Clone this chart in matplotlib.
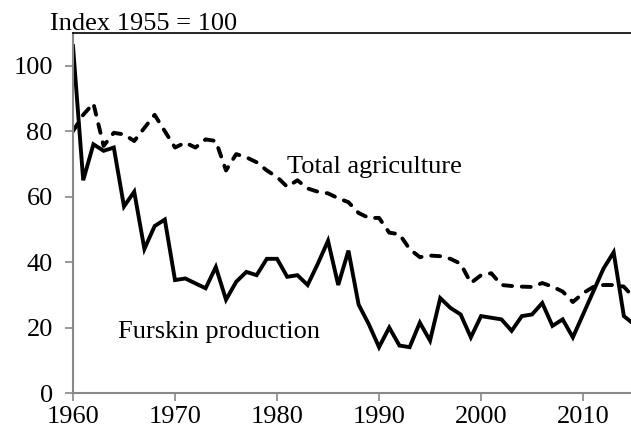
import numpy as np
import matplotlib.pyplot as plt

# -----------------------------
# Data (index 1955 = 100)
# -----------------------------
years = list(range(1960, 2016))

furskin = [106, 65, 76, 74, 75, 57, 61.5, 44, 51, 53,
           34.5, 35, 33.5, 32, 38.5, 28.5, 34, 37, 36, 41,
           41, 35.5, 36, 33, 39.5, 46.5, 33, 43.5, 27, 21,
           14, 20, 14.5, 14, 21.5, 16, 29, 26, 24, 17,
           23.5, 23, 22.5, 19, 23.5, 24, 27.5, 20.5, 22.5, 17,
           24, 31, 38, 43, 23.5, 21]

agriculture = [80, 85, 88.5, 75.5, 79.5, 79, 77, 81, 85, 80,
               75, 76.5, 75, 77.5, 77, 68, 73, 72, 70.5, 68,
               66, 63, 65, 62.5, 61.5, 61, 59.5, 58.3, 55, 53.5,
               53.5, 49, 48.5, 44, 41.5, 42, 41.8, 41, 39.5, 33.6,
               36, 36.6, 33, 32.7, 32.5, 32.4, 33.6, 32.5, 31, 27.8,
               30.5, 32.4, 33, 33, 32.5, 29]

y_ticks = [0, 20, 40, 60, 80, 100]
x_ticks = [1960, 1970, 1980, 1990, 2000, 2010]

plt.rcParams['font.family'] = ['Liberation Serif', 'DejaVu Serif']
FS = 19

fig = plt.figure(figsize=(6.31, 4.34), dpi=100)
ax = fig.add_axes([73 / 631, 1 - 393 / 434, 1 - 73 / 631, (393 - 33) / 434])

ax.plot(years, agriculture, color='black', lw=2.8, linestyle=(0, (2.3, 2.5)),
        dash_capstyle='round', dash_joinstyle='round')
ax.plot(years, furskin, color='black', lw=2.8, solid_joinstyle='miter')

ax.set_xlim(1960, 2014.7)
ax.set_ylim(0, 110)
ax.set_xticks(x_ticks)
ax.set_yticks(y_ticks)
ax.tick_params(axis='both', labelsize=FS, color='#888888', length=5.5, width=1.2,
               direction='out')
ax.tick_params(axis='y', pad=9)
ax.tick_params(axis='x', pad=4)

for side in ['left', 'bottom']:
    ax.spines[side].set_color('#888888')
    ax.spines[side].set_linewidth(1.5)
ax.spines['right'].set_visible(False)
ax.spines['top'].set_color('black')
ax.spines['top'].set_linewidth(1.2)

fig.text(50 / 631, 1 - 24 / 434, 'Index 1955 = 100', fontsize=FS,
         ha='left', va='center')
ax.text(1981.0, 69, 'Total agriculture', fontsize=FS, ha='left', va='center')
ax.text(1964.4, 18.5, 'Furskin production', fontsize=FS, ha='left', va='center')

fig.savefig('out.png', dpi=100)
